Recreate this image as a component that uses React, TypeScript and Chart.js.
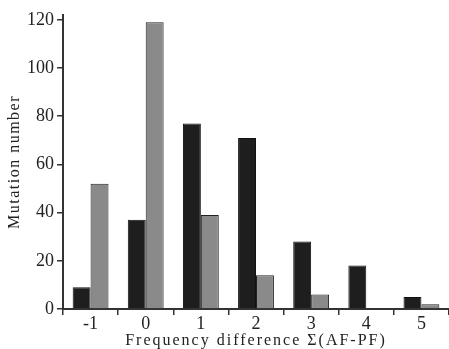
import React, { useEffect, useRef } from "react";
import { Chart, registerables } from "chart.js";
Chart.register(...registerables);

const categories = ["-1", "0", "1", "2", "3", "4", "5"];
const darkSeries = [9, 37, 77, 71, 28, 18, 5];
const greySeries = [52, 119, 39, 14, 6, 0, 2];
const yTicks = [0, 20, 40, 60, 80, 100, 120];

const spacedTitles = {
  id: "spacedTitles",
  afterLayout(chart: any) {
    ["x", "y"].forEach((id) => {
      const s = chart.scales[id];
      if (!s || s._spacedPatched) return;
      const orig = s.drawTitle;
      s.drawTitle = function (...args: any[]) {
        const ctx = this.ctx;
        ctx.save();
        ctx.letterSpacing = id === "x" ? "2px" : "1.5px";
        orig.apply(this, args);
        ctx.restore();
      };
      s._spacedPatched = true;
    });
  },
};

export default function App() {
  const ref = useRef<HTMLCanvasElement | null>(null);
  useEffect(() => {
    if (!ref.current) return;
    const font = "'Liberation Serif', 'DejaVu Serif', serif";
    const chart = new Chart(ref.current, {
      type: "bar",
      data: {
        labels: categories,
        datasets: [
          {
            label: "dark",
            data: darkSeries,
            backgroundColor: "#1e1e1e",
            borderColor: "#111",
            borderWidth: 1,
            barPercentage: 1,
            categoryPercentage: 0.65,
          },
          {
            label: "grey",
            data: greySeries,
            backgroundColor: "#8a8a8a",
            borderColor: "#222",
            borderWidth: 1,
            barPercentage: 1,
            categoryPercentage: 0.65,
          },
        ],
      },
      plugins: [spacedTitles],
      options: {
        animation: false,
        responsive: false,
        layout: { padding: { top: 15, right: 0, left: 7, bottom: 0 } },
        plugins: { legend: { display: false }, tooltip: { enabled: false } },
        scales: {
          x: {
            grid: { display: true, drawOnChartArea: false, drawTicks: true, tickLength: 6, color: "#333", lineWidth: 1.5 },
            border: { display: true, color: "#333", width: 2 },
            ticks: { color: "#222", font: { family: font, size: 18, lineHeight: 1.0 }, padding: 0 },
            title: {
              display: true,
              text: "Frequency difference \u03A3(AF-PF)",
              color: "#222",
              font: { family: font, size: 16, lineHeight: 1.0 },
              padding: { top: 0, bottom: 0 },
            },
          },
          y: {
            min: 0,
            max: 122,
            afterBuildTicks: (scale: any) => {
              scale.ticks = yTicks.map((v) => ({ value: v }));
            },
            grid: { display: true, drawOnChartArea: false, drawTicks: true, tickLength: 6, color: "#333", lineWidth: 1.5 },
            border: { display: true, color: "#333", width: 2 },
            ticks: { color: "#222", font: { family: font, size: 18 }, padding: 3 },
            title: {
              display: true,
              text: "Mutation number",
              color: "#222",
              font: { family: font, size: 16, lineHeight: 1.0 },
              padding: { top: 0, bottom: 1 },
            },
          },
        },
      },
    });
    return () => chart.destroy();
  }, []);
  return (
    <div style={{ position: "fixed", left: 0, top: 0, width: 449, height: 349, background: "#fff" }}>
      <canvas ref={ref} width={449} height={349} style={{ width: 449, height: 349 }} />
    </div>
  );
}
